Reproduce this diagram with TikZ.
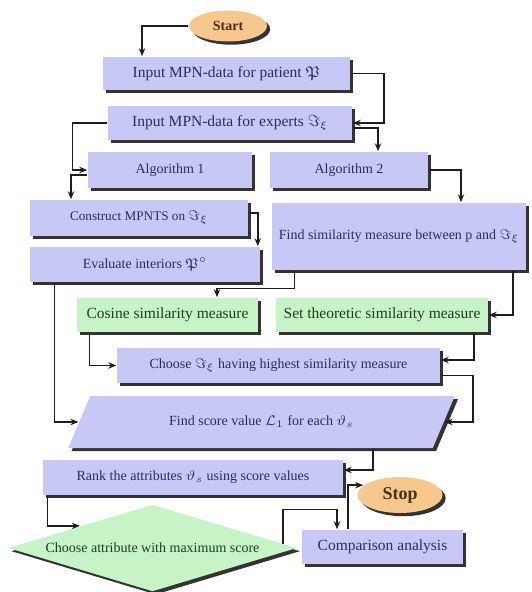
\documentclass[tikz,border=0pt]{standalone}
\usepackage{amsmath,amssymb}
\usepackage{fontspec}
\setmainfont{Liberation Serif}
\usepackage{tikz}
\usetikzlibrary{arrows.meta,calc,shapes.geometric,shadows}
\definecolor{boxL}{HTML}{C8C8F6}
\definecolor{boxG}{HTML}{C6F4C6}
\definecolor{boxO}{HTML}{F6C88E}
\definecolor{txtL}{HTML}{2C2C58}
\definecolor{txtG}{HTML}{1F3B22}
\definecolor{txtO}{HTML}{4B2E12}
\definecolor{wire}{HTML}{1E1E1E}
\newcommand\ftbig{\fontsize{7.75}{9}\selectfont}
\newcommand\ftmid{\fontsize{7}{8.5}\selectfont}
\newcommand\ftsml{\fontsize{6.6}{8}\selectfont}

\begin{document}
\begin{tikzpicture}[x=0.5pt,y=-0.5pt,line width=0.75pt,
  shd/.style={drop shadow={shadow xshift=1.6pt,shadow yshift=-1.6pt,fill=black!80,opacity=1}},
  blk/.style={rectangle,fill=boxL,text=txtL,shd,inner sep=0pt,font=\ftbig},
  grn/.style={blk,fill=boxG,text=txtG},
  term/.style={ellipse,fill=boxO,text=txtO,shd,inner sep=0pt},
  arr/.style={wire,-{Stealth[length=4pt,width=3.2pt]}}]
  \useasboundingbox (0,0) rectangle (531,592);
  \node[term,minimum width=39pt,minimum height=15.5pt,font=\ftmid\bfseries] (start) at (228,26) {Start};
  \node[blk,minimum width=123.5pt,minimum height=16.5pt] (patient) at (226.5,73.5) {Input MPN-data for patient $\mathfrak{P}$};
  \node[blk,minimum width=122pt,minimum height=17pt] (experts) at (230,123) {Input MPN-data for experts $\Im_\xi$};
  \node[blk,minimum width=82pt,minimum height=18pt,font=\ftmid] (alg1) at (170,170) {Algorithm 1};
  \node[blk,minimum width=79pt,minimum height=18pt,font=\ftmid] (alg2) at (349,170) {Algorithm 2};
  \node[blk,minimum width=109pt,minimum height=18pt,font=\ftsml] (construct) at (139,218) {Construct MPNTS on $\Im_\xi$};
  \node[blk,minimum width=115pt,minimum height=17.5pt,font=\ftmid] (evaluate) at (145,264.5) {Evaluate interiors $\mathfrak{P}^\circ$};
  \node[blk,minimum width=127pt,minimum height=33.5pt,font=\ftmid] (findsim) at (399,236.5) {Find similarity measure between p and $\Im_\xi$};
  \node[grn,minimum width=90.5pt,minimum height=17pt] (cosine) at (167.5,315) {Cosine similarity measure};
  \node[grn,minimum width=106pt,minimum height=17pt] (settheo) at (382,315) {Set theoretic similarity measure};
  \node[blk,minimum width=161.5pt,minimum height=17.5pt,font=\ftmid] (choose) at (278.5,365.5) {Choose $\Im_\xi$ having highest similarity measure};
  \node[blk,trapezium,trapezium left angle=45,trapezium right angle=135,trapezium stretches=true,
    minimum width=193.5pt,minimum height=26pt,font=\ftmid] (score) at (261.5,422) {Find score value $\mathcal{L}_1$ for each $\vartheta_s$};
  \node[blk,minimum width=150pt,minimum height=17.5pt,font=\ftmid] (rank) at (193,477.5) {Rank the attributes $\vartheta_s$ using score values};
  \node[grn,diamond,aspect=3.3,minimum width=144.5pt,minimum height=43.5pt,font=\ftmid] (pick) at (152.5,548) {Choose attribute with maximum score};
  \node[blk,minimum width=80.5pt,minimum height=17pt] (compare) at (382.5,547) {Comparison analysis};
  \node[term,minimum width=42.5pt,minimum height=18pt,font=\fontsize{9}{10}\selectfont\bfseries] (stop) at (400,495) {Stop};

  \draw[arr] (start.west) -| ([xshift=-42.25pt]patient.north);
  \draw[arr] (patient.east) -- ++(16.5pt,0) |- (experts.east);
  \draw[arr] ([yshift=-2.5pt]experts.east) -| ([xshift=14.5pt]alg2.north);
  \draw[arr] (experts.west) -- ++(-17.5pt,0) |- (alg1.west);
  \draw[arr] ([yshift=-2.5pt]alg1.west) -| ([xshift=-34pt]construct.north);
  \draw[arr] (alg2.east) -| ([xshift=31pt]findsim.north);
  \draw[arr] ([yshift=2.5pt]construct.east) -| ([xshift=-1.5pt]evaluate.north east);
  \draw[arr] ([xshift=12.5pt]evaluate.south west) |- (score.left side);
  \draw[arr] ([xshift=11.5pt]findsim.south west) -- ++(0,-9pt) -| ([xshift=24.75pt]cosine.north);
  \draw[arr] ([xshift=-7pt]findsim.south east) |- (settheo.east);
  \draw[arr] ([xshift=6.5pt]cosine.south west) |- (choose.west);
  \draw[arr] ([xshift=-7.5pt]settheo.south east) |- ([yshift=2.75pt]choose.east);
  \draw[arr] ([yshift=-5pt]choose.east) -- ++(16pt,0) |- (score.right side);
  \draw[arr] ([xshift=55.75pt]score.south) |- ([yshift=3.75pt]rank.east);
  \draw[arr] ([xshift=2.5pt]rank.south west) |- (pick.north west);
  \draw[arr] ($(pick.east)!0.1!(pick.north)$) -- ++(0,17pt) -| ([xshift=-22.75pt]compare.north);
  \draw[arr] ([xshift=-17.25pt]compare.north) |- (stop.165);
\end{tikzpicture}
\end{document}
